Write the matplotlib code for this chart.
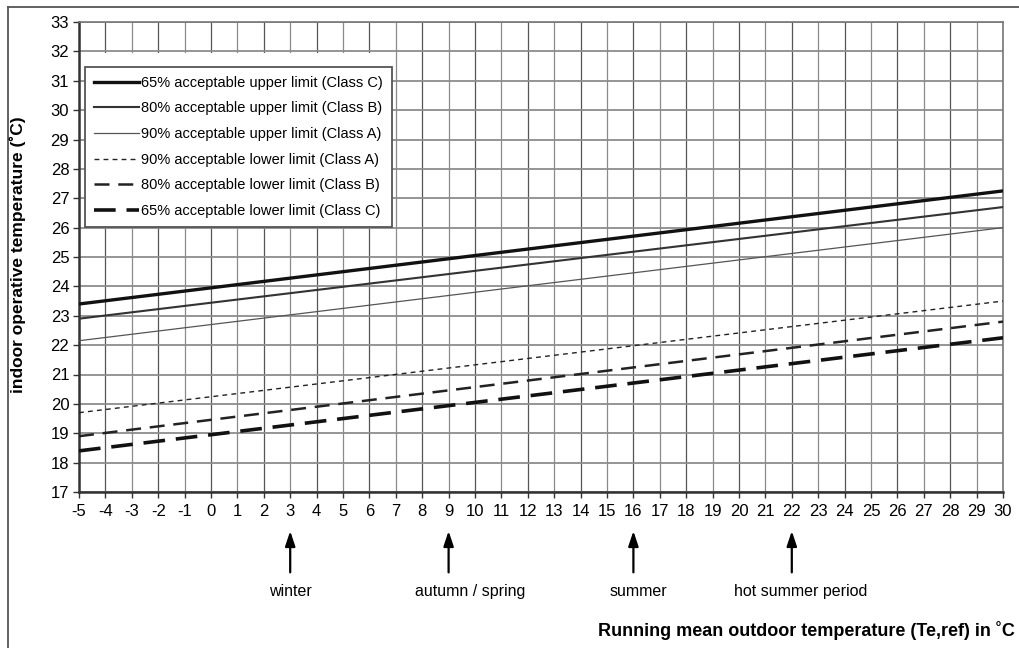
import matplotlib
matplotlib.use("Agg")
import matplotlib.pyplot as plt
from matplotlib.lines import Line2D
from matplotlib.patches import Rectangle

plt.rcParams['font.family'] = ['Liberation Sans', 'DejaVu Sans']
plt.rcParams['axes.unicode_minus'] = False

# Data: running mean outdoor temp endpoints and limits
x_pts = [-5, 30]
upper_C = [23.4, 27.25]
upper_B = [22.9, 26.7]
upper_A = [22.15, 26.0]
lower_A = [19.7, 23.5]
lower_B = [18.9, 22.8]
lower_C = [18.4, 22.25]

labels = [
    "65% acceptable upper limit (Class C)",
    "80% acceptable upper limit (Class B)",
    "90% acceptable upper limit (Class A)",
    "90% acceptable lower limit (Class A)",
    "80% acceptable lower limit (Class B)",
    "65% acceptable lower limit (Class C)",
]
season_x = [3, 9, 16, 22]
season_labels = ["winter", "autumn / spring", "summer", "hot summer period"]
xticks = list(range(-5, 31))
yticks = list(range(17, 34))

W, H = 1019, 648
fig = plt.figure(figsize=(W / 100, H / 100), dpi=100)
ax = fig.add_axes([79 / W, 1 - 492 / H, (1003 - 79) / W, (492 - 22) / H])
ax.set_xlim(-5, 30)
ax.set_ylim(17, 33)
ax.set_xticks(xticks)
ax.set_yticks(yticks)
ax.tick_params(axis='both', labelsize=12, length=4, width=1, color='#333333')
ax.tick_params(axis='x', pad=5)
ax.tick_params(axis='y', pad=3)

# gridlines
for xv in xticks:
    c = '#555555' if xv % 2 == 0 else '#8a8a8a'
    ax.axvline(xv, color=c, lw=0.9, zorder=1)
for yv in yticks:
    ax.axhline(yv, color='#8c8c8c', lw=1.3, zorder=1)

for s in ['left', 'bottom']:
    ax.spines[s].set_linewidth(1.8)
    ax.spines[s].set_color('#333333')
for s in ['top', 'right']:
    ax.spines[s].set_linewidth(1.2)
    ax.spines[s].set_color('#777777')

styles = [
    (upper_C, dict(color='#111111', lw=2.4, ls='-')),
    (upper_B, dict(color='#333333', lw=1.5, ls='-')),
    (upper_A, dict(color='#555555', lw=0.9, ls='-')),
    (lower_A, dict(color='#222222', lw=1.0, ls=(0, (3.5, 3)))),
    (lower_B, dict(color='#222222', lw=1.8, ls=(0, (6, 3.5)))),
    (lower_C, dict(color='#111111', lw=2.6, ls=(0, (6, 3)))),
]
handles = []
for (vals, st), lab in zip(styles, labels):
    ax.plot(x_pts, vals, zorder=3, **st)
    handles.append(Line2D([], [], **st, label=lab))

# white patch above legend
ax.add_patch(Rectangle((-4.75, 31.45), 11.35, 0.5, facecolor='white',
                       edgecolor='none', zorder=2))
leg = ax.legend(handles=handles, loc='upper left',
                bbox_to_anchor=(6 / 924, 1 - 45 / 470), fontsize=10.5,
                frameon=True, fancybox=False, edgecolor='#555555',
                framealpha=1, handlelength=3.1, handletextpad=0.15,
                borderpad=0.6, labelspacing=0.8, borderaxespad=0)
leg.get_frame().set_linewidth(1.3)
leg.set_zorder(5)

fig.text(18 / W, 1 - 255 / H, "indoor operative temperature (˚C)", fontsize=12.5,
         fontweight='bold', rotation=90, ha='center', va='center')

# season arrows and labels
for sx in season_x:
    ax.annotate("", xy=(sx, -0.083), xytext=(sx, -0.171),
                xycoords=('data', 'axes fraction'),
                textcoords=('data', 'axes fraction'),
                arrowprops=dict(arrowstyle='-|>,head_length=0.9,head_width=0.3',
                                color='black', lw=1.6, shrinkA=0, shrinkB=0),
                annotation_clip=False)
for sx, sl, off in zip(season_x, season_labels, [0, 0.8, 0.2, 0.35]):
    ax.text(sx + off, -0.211, sl, transform=ax.get_xaxis_transform(),
            ha='center', va='center', fontsize=11.5)

fig.text(1015 / W, 1 - 630 / H, "Running mean outdoor temperature (Te,ref) in ˚C",
         fontsize=13.0, fontweight='bold', ha='right', va='center')

# outer border (left and top)
fig.add_artist(Line2D([8 / W, 8 / W], [0, 1 - 7 / H], transform=fig.transFigure,
                      color='#555555', lw=1.3))
fig.add_artist(Line2D([8 / W, 1], [1 - 7 / H, 1 - 7 / H], transform=fig.transFigure,
                      color='#555555', lw=1.3))

fig.savefig("out.png", dpi=100)
